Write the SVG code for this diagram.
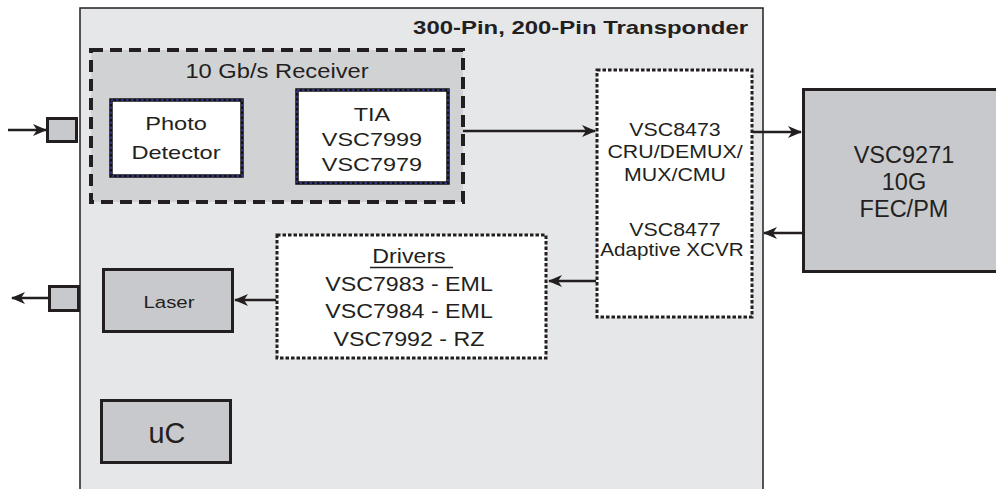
<svg xmlns="http://www.w3.org/2000/svg" width="996" height="489" viewBox="0 0 996 489">
<defs>
<marker id="ah" viewBox="0 0 14 12" refX="13" refY="6" markerWidth="14" markerHeight="12" markerUnits="userSpaceOnUse" orient="auto">
<path d="M0,0 L14,6 L0,12 L4,6 Z" fill="#231f20"/>
</marker>
<style>
text{font-family:"Liberation Sans",Arial,sans-serif;fill:#231f20;text-anchor:middle}
.solid{fill:#c8c9cc;stroke:#231f20;stroke-width:3}
.dot{fill:#fff;stroke:#231f20;stroke-width:3;stroke-dasharray:3.5 2}
.navyback{fill:#fff;stroke:#111;stroke-width:3.5}
.navy{fill:none;stroke:#2e3180;stroke-width:2;stroke-dasharray:2.5 2.5}
.conn{stroke:#231f20;stroke-width:2.5;fill:none;marker-end:url(#ah)}
.pd{font-size:18.6px}
.mx{font-size:17.5px}
.dr{font-size:19.5px}
.fec{font-size:23.5px}
</style>
</defs>
<rect width="996" height="489" fill="#fff"/>
<g id="transponder">
<rect x="80" y="8" width="683" height="490" fill="#e6e7e9" stroke="#231f20" stroke-width="1.5"/>
<text transform="translate(748 34) scale(1.33 1)" style="font-size:18px;font-weight:bold;text-anchor:end">300-Pin, 200-Pin Transponder</text>
</g>
<g id="receiver">
<rect x="91" y="50" width="372" height="152" fill="#d1d2d4" stroke="#231f20" stroke-width="4" stroke-dasharray="12 7"/>
<text transform="translate(277 78) scale(1.13 1)" style="font-size:21px">10 Gb/s Receiver</text>
</g>
<g id="photo">
<rect x="111" y="100" width="131" height="76" class="navyback"/>
<rect x="111" y="100" width="131" height="76" class="navy"/>
<text transform="translate(176 130) scale(1.27 1)" class="pd">Photo</text>
<text transform="translate(176 159) scale(1.27 1)" class="pd">Detector</text>
</g>
<g id="tia">
<rect x="297" y="90" width="151" height="93" class="navyback"/>
<rect x="297" y="90" width="151" height="93" class="navy"/>
<text transform="translate(372 121) scale(1.26 1)" class="pd">TIA</text>
<text transform="translate(372 146) scale(1.26 1)" class="pd">VSC7999</text>
<text transform="translate(372 171) scale(1.26 1)" class="pd">VSC7979</text>
</g>
<g id="inport">
<rect x="47.5" y="118.5" width="29" height="23" class="solid"/>
</g>
<g id="outport">
<rect x="49.5" y="286.5" width="29" height="24" class="solid"/>
</g>
<g id="vsc8473">
<rect x="597" y="70" width="155" height="247" class="dot"/>
<text transform="translate(675 136) scale(1.22 1)" class="mx">VSC8473</text>
<text transform="translate(675 158) scale(1.22 1)" class="mx">CRU/DEMUX/</text>
<text transform="translate(675 181) scale(1.22 1)" class="mx">MUX/CMU</text>
<text transform="translate(675 236) scale(1.22 1)" class="mx">VSC8477</text>
<text transform="translate(672 256) scale(1.18 1)" class="mx">Adaptive XCVR</text>
</g>
<g id="vsc9271">
<rect x="803.5" y="89.5" width="195" height="182" class="solid"/>
<text x="904" y="163" class="fec">VSC9271</text>
<text x="904" y="190" class="fec">10G</text>
<text x="904" y="216.5" class="fec">FEC/PM</text>
</g>
<g id="drivers">
<rect x="277" y="235" width="269" height="123" class="dot"/>
<text transform="translate(409 263) scale(1.19 1)" class="dr">Drivers</text>
<line x1="370" y1="267.5" x2="453" y2="267.5" stroke="#231f20" stroke-width="1.5"/>
<text transform="translate(409 291) scale(1.19 1)" class="dr">VSC7983 - EML</text>
<text transform="translate(409 318) scale(1.19 1)" class="dr">VSC7984 - EML</text>
<text transform="translate(409 346) scale(1.19 1)" class="dr">VSC7992 - RZ</text>
</g>
<g id="laser">
<rect x="103.5" y="269.5" width="129" height="62" class="solid"/>
<text transform="translate(169 308) scale(1.2 1)" style="font-size:17px">Laser</text>
</g>
<g id="uc">
<rect x="101.5" y="400.5" width="129" height="62" class="solid"/>
<text transform="translate(167 443) scale(0.96 1)" style="font-size:30px">uC</text>
</g>
<g id="connectors">
<line x1="8" y1="130" x2="46" y2="130" class="conn"/>
<line x1="463" y1="131" x2="595" y2="131" class="conn"/>
<line x1="753" y1="132" x2="801" y2="132" class="conn"/>
<line x1="803" y1="233" x2="764" y2="233" class="conn"/>
<line x1="596" y1="281" x2="549" y2="281" class="conn"/>
<line x1="276" y1="300" x2="235" y2="300" class="conn"/>
<line x1="49" y1="298" x2="12" y2="298" class="conn"/>
</g>
</svg>
